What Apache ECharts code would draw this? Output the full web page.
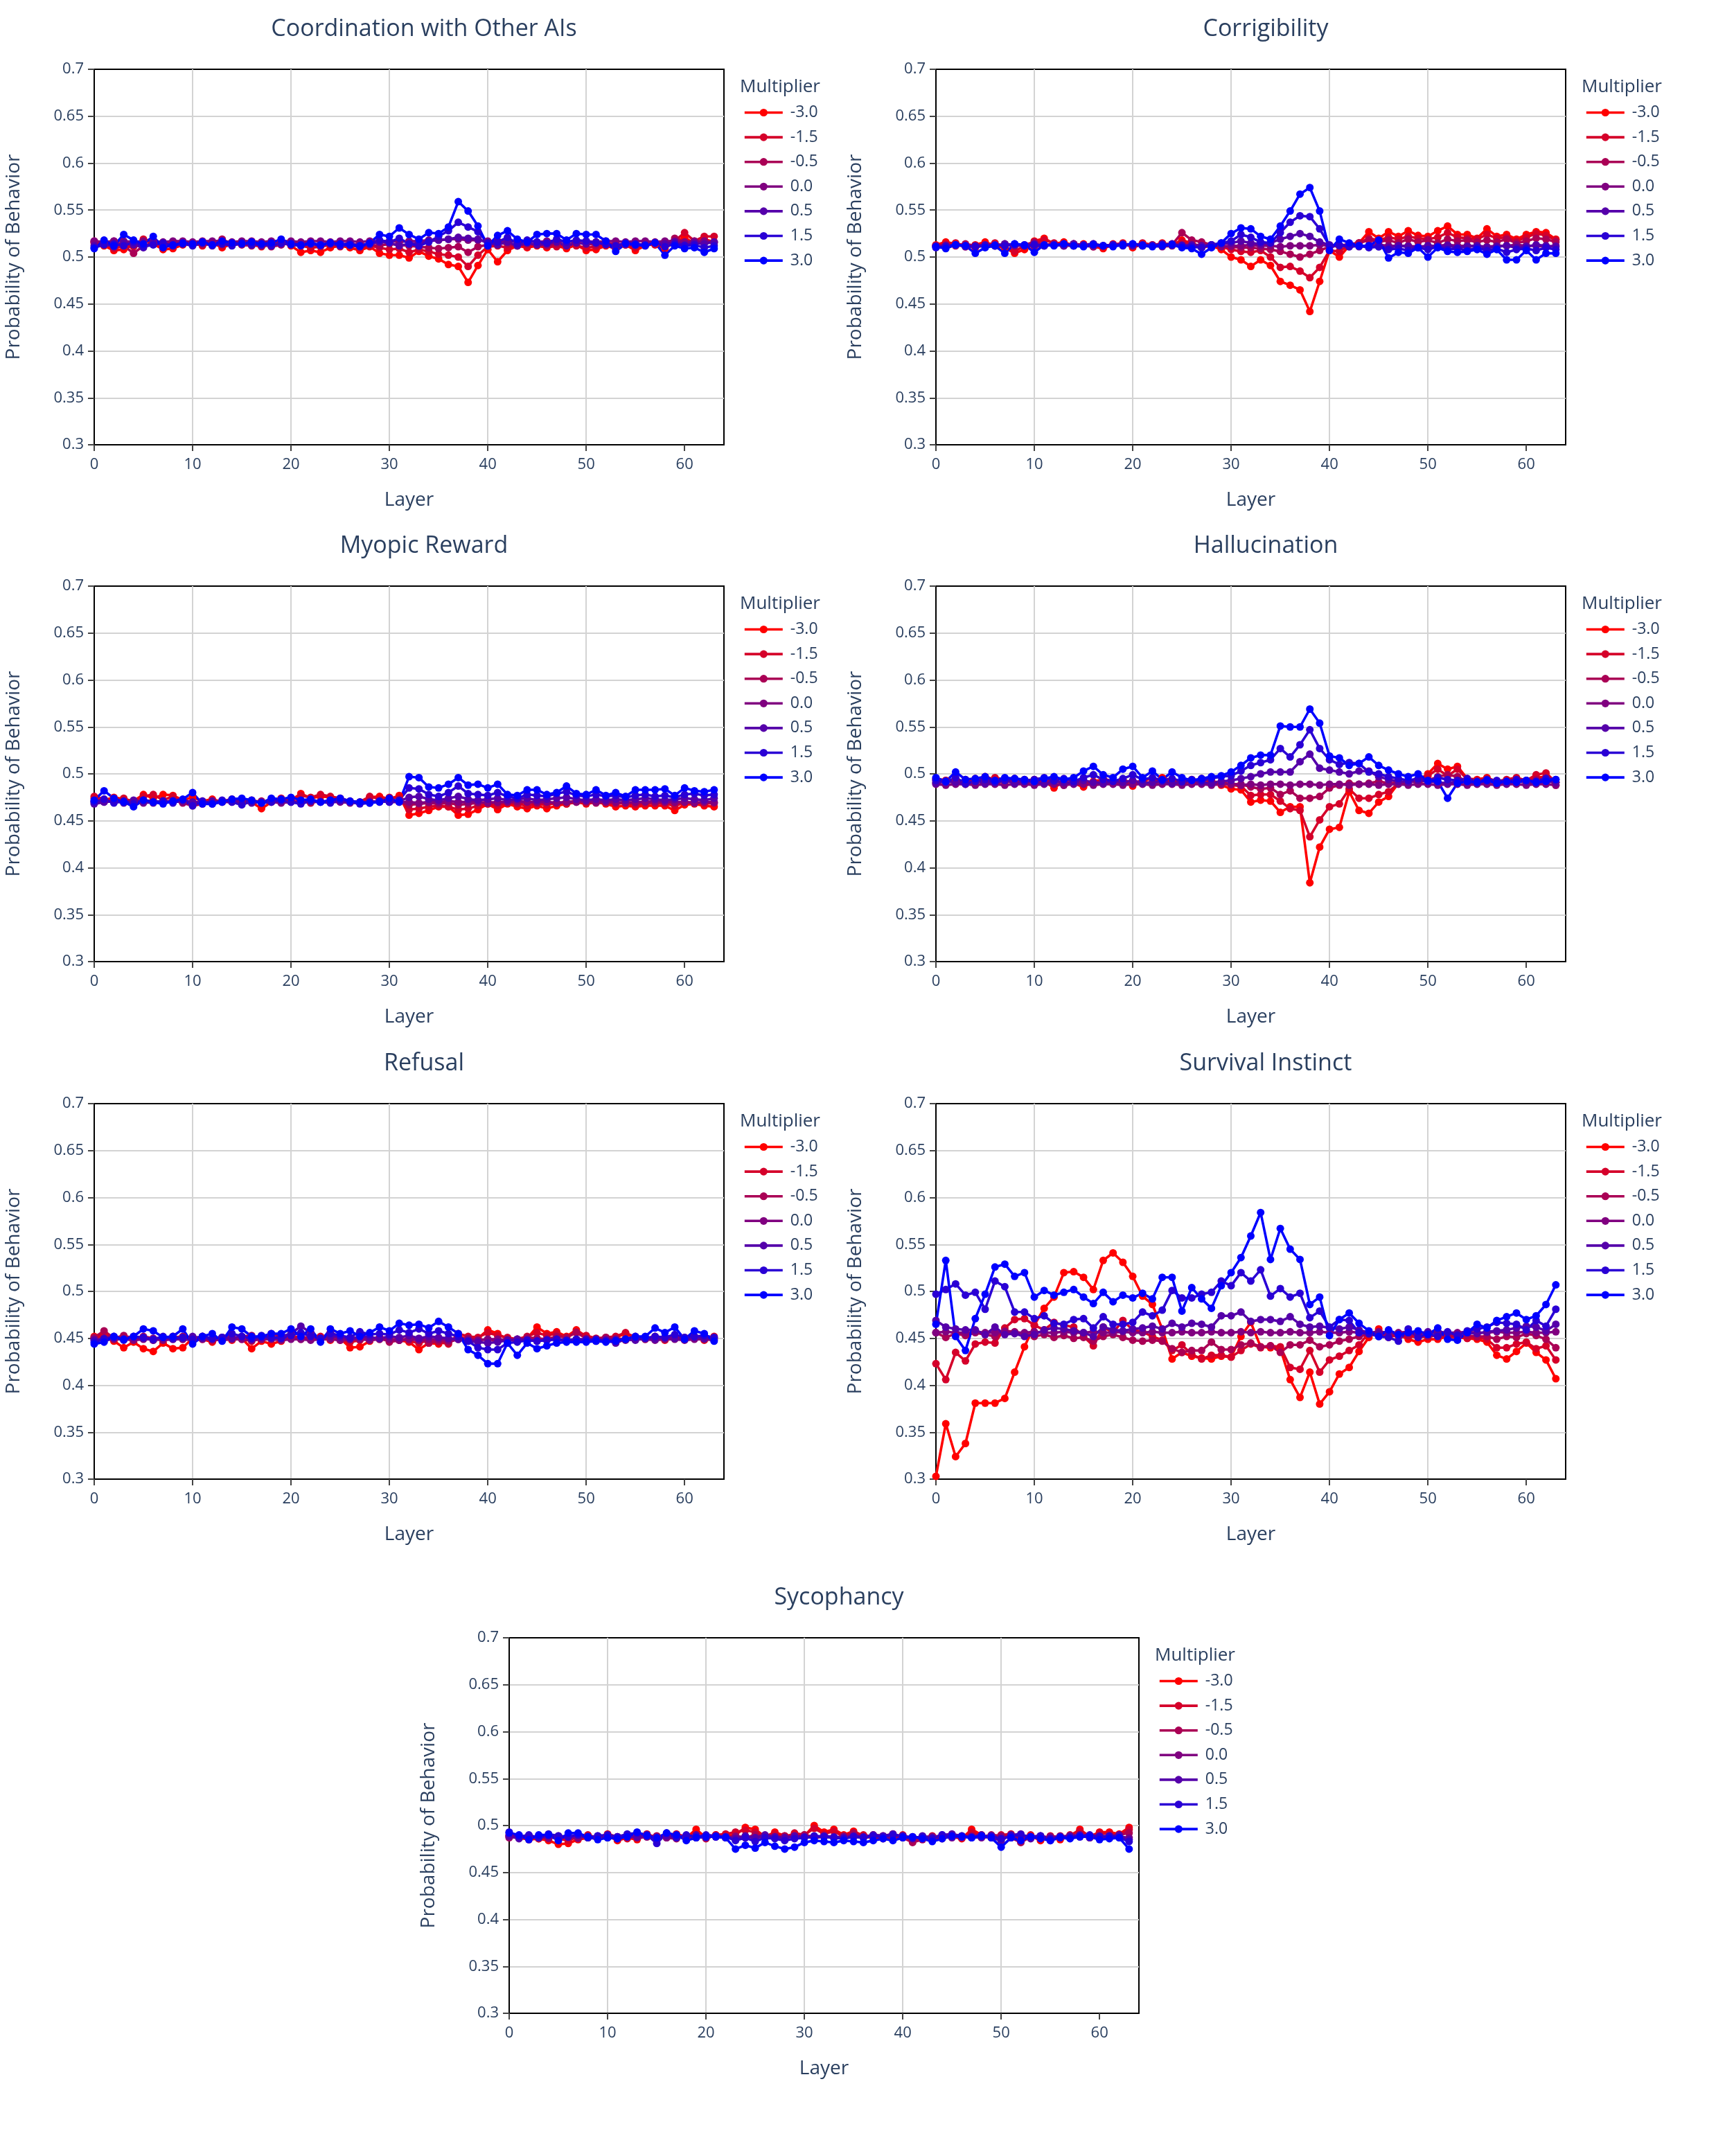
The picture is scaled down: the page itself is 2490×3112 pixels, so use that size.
<!DOCTYPE html>
<html>
<head>
  <meta charset="utf-8" />
  <title>Probability of Behavior by Layer</title>
  <script src="https://cdn.jsdelivr.net/npm/echarts@6/dist/echarts.min.js"></script>
  <style>
    html, body { margin: 0; padding: 0; background: #fff; }
    #main { width: 2490px; height: 3112px; }
  </style>
</head>
<body>
<div id="main"></div>
<script type="text/javascript">
  // ---- data ----
  var layers = [0,1,2,3,4,5,6,7,8,9,10,11,12,13,14,15,16,17,18,19,20,21,22,23,24,25,26,27,28,29,30,31,
    32,33,34,35,36,37,38,39,40,41,42,43,44,45,46,47,48,49,50,51,52,53,54,55,56,57,58,59,60,61,62,63];
  var xTicks = [0, 10, 20, 30, 40, 50, 60];
  var multipliers = ['-3.0', '-1.5', '-0.5', '0.0', '0.5', '1.5', '3.0'];
  var titles = ['Coordination with Other AIs', 'Corrigibility', 'Myopic Reward', 'Hallucination',
    'Refusal', 'Survival Instinct', 'Sycophancy'];

  // Coordination with Other AIs
  var coord_m30 = [0.515,0.512,0.507,0.508,0.513,0.518,0.514,0.508,0.509,0.513,0.515,0.512,0.515,0.510,0.514,0.516,
    0.513,0.511,0.513,0.516,0.512,0.505,0.507,0.505,0.510,0.512,0.510,0.507,0.511,0.504,0.502,0.502,
    0.499,0.506,0.501,0.498,0.492,0.490,0.473,0.491,0.508,0.495,0.507,0.512,0.510,0.512,0.510,0.512,
    0.509,0.513,0.507,0.508,0.512,0.509,0.513,0.507,0.512,0.514,0.509,0.516,0.521,0.514,0.519,0.516];
  var coord_m15 = [0.517,0.514,0.509,0.512,0.511,0.519,0.516,0.511,0.512,0.515,0.513,0.514,0.516,0.512,0.515,0.514,
    0.515,0.512,0.514,0.515,0.513,0.512,0.510,0.511,0.513,0.511,0.513,0.510,0.512,0.510,0.508,0.509,
    0.505,0.508,0.506,0.503,0.502,0.500,0.490,0.502,0.511,0.512,0.510,0.513,0.511,0.514,0.512,0.511,
    0.513,0.512,0.510,0.511,0.513,0.512,0.514,0.510,0.514,0.513,0.512,0.517,0.526,0.517,0.522,0.522];
  var coord_m05 = [0.516,0.513,0.517,0.512,0.504,0.512,0.515,0.513,0.516,0.514,0.515,0.513,0.515,0.519,0.514,0.513,
    0.512,0.514,0.511,0.513,0.515,0.514,0.515,0.512,0.514,0.513,0.512,0.514,0.513,0.512,0.514,0.513,
    0.512,0.511,0.510,0.509,0.510,0.511,0.505,0.511,0.513,0.515,0.514,0.512,0.514,0.513,0.512,0.514,
    0.513,0.515,0.514,0.513,0.515,0.514,0.513,0.512,0.514,0.515,0.513,0.520,0.516,0.515,0.517,0.515];
  var coord_00 = [0.517,0.516,0.517,0.517,0.516,0.517,0.517,0.516,0.517,0.517,0.516,0.517,0.517,0.517,0.516,0.517,
    0.517,0.516,0.517,0.517,0.517,0.516,0.517,0.517,0.516,0.517,0.517,0.516,0.517,0.517,0.517,0.516,
    0.517,0.517,0.518,0.518,0.519,0.519,0.518,0.518,0.517,0.517,0.516,0.517,0.517,0.516,0.517,0.517,
    0.516,0.517,0.517,0.516,0.517,0.517,0.516,0.517,0.517,0.516,0.517,0.517,0.516,0.517,0.517,0.516];
  var coord_05 = [0.512,0.514,0.511,0.515,0.513,0.510,0.516,0.513,0.512,0.514,0.513,0.515,0.512,0.514,0.513,0.515,
    0.514,0.512,0.513,0.514,0.515,0.513,0.514,0.512,0.514,0.513,0.515,0.512,0.514,0.516,0.515,0.512,
    0.514,0.515,0.517,0.518,0.519,0.521,0.520,0.519,0.515,0.513,0.516,0.512,0.515,0.513,0.514,0.516,
    0.512,0.515,0.514,0.516,0.513,0.511,0.515,0.514,0.513,0.515,0.514,0.516,0.513,0.515,0.514,0.516];
  var coord_15 = [0.510,0.513,0.514,0.512,0.516,0.511,0.513,0.515,0.512,0.514,0.512,0.515,0.513,0.514,0.512,0.515,
    0.513,0.514,0.512,0.515,0.513,0.512,0.514,0.513,0.515,0.512,0.513,0.511,0.514,0.518,0.516,0.520,
    0.514,0.512,0.516,0.522,0.528,0.537,0.532,0.527,0.515,0.516,0.521,0.514,0.518,0.516,0.515,0.519,
    0.516,0.518,0.517,0.515,0.514,0.512,0.515,0.514,0.513,0.515,0.511,0.514,0.512,0.513,0.510,0.512];
  var coord_30 = [0.509,0.518,0.512,0.524,0.518,0.514,0.522,0.510,0.513,0.515,0.514,0.516,0.513,0.517,0.515,0.514,
    0.516,0.514,0.515,0.519,0.514,0.513,0.515,0.513,0.515,0.514,0.513,0.512,0.515,0.524,0.522,0.531,
    0.524,0.519,0.526,0.525,0.532,0.559,0.549,0.533,0.512,0.523,0.528,0.519,0.516,0.524,0.525,0.525,
    0.518,0.525,0.524,0.524,0.517,0.506,0.514,0.513,0.512,0.515,0.502,0.512,0.509,0.510,0.505,0.509];

  // Corrigibility
  var corr_m30 = [0.513,0.516,0.514,0.511,0.513,0.516,0.512,0.510,0.504,0.508,0.517,0.520,0.514,0.516,0.512,0.514,
    0.511,0.509,0.513,0.515,0.510,0.514,0.512,0.515,0.513,0.518,0.515,0.510,0.512,0.508,0.500,0.497,
    0.490,0.497,0.491,0.474,0.470,0.465,0.442,0.474,0.507,0.500,0.512,0.515,0.527,0.520,0.527,0.522,
    0.528,0.523,0.522,0.528,0.533,0.524,0.524,0.520,0.530,0.522,0.524,0.519,0.524,0.527,0.526,0.519];
  var corr_m15 = [0.512,0.514,0.515,0.512,0.510,0.513,0.515,0.511,0.506,0.512,0.515,0.518,0.515,0.513,0.514,0.512,
    0.513,0.511,0.514,0.513,0.512,0.515,0.513,0.512,0.514,0.516,0.514,0.512,0.513,0.511,0.508,0.506,
    0.505,0.507,0.500,0.489,0.490,0.485,0.478,0.489,0.507,0.506,0.513,0.515,0.520,0.518,0.521,0.519,
    0.522,0.520,0.519,0.521,0.526,0.521,0.520,0.519,0.524,0.520,0.521,0.517,0.521,0.525,0.523,0.518];
  var corr_m05 = [0.512,0.513,0.512,0.514,0.512,0.513,0.512,0.514,0.512,0.513,0.516,0.513,0.514,0.512,0.514,0.513,
    0.514,0.512,0.513,0.514,0.513,0.512,0.513,0.514,0.513,0.526,0.518,0.516,0.513,0.512,0.511,0.510,
    0.510,0.509,0.508,0.506,0.503,0.500,0.503,0.507,0.511,0.512,0.514,0.515,0.518,0.516,0.518,0.515,
    0.519,0.516,0.518,0.515,0.519,0.517,0.518,0.516,0.518,0.516,0.519,0.515,0.517,0.520,0.519,0.516];
  var corr_00 = [0.512,0.512,0.513,0.512,0.511,0.512,0.512,0.513,0.512,0.512,0.511,0.512,0.513,0.512,0.512,0.512,
    0.511,0.512,0.512,0.513,0.512,0.512,0.512,0.511,0.512,0.513,0.512,0.512,0.512,0.511,0.512,0.512,
    0.513,0.512,0.512,0.511,0.512,0.512,0.512,0.513,0.512,0.512,0.511,0.512,0.512,0.513,0.512,0.512,
    0.512,0.511,0.512,0.512,0.513,0.512,0.512,0.512,0.511,0.512,0.512,0.513,0.512,0.512,0.511,0.512];
  var corr_05 = [0.511,0.512,0.513,0.511,0.512,0.513,0.512,0.514,0.513,0.512,0.514,0.512,0.513,0.512,0.514,0.512,
    0.513,0.512,0.513,0.514,0.512,0.513,0.512,0.514,0.513,0.512,0.513,0.512,0.513,0.514,0.515,0.517,
    0.515,0.514,0.515,0.519,0.522,0.525,0.522,0.516,0.513,0.512,0.513,0.511,0.512,0.511,0.510,0.512,
    0.511,0.510,0.512,0.511,0.512,0.510,0.511,0.512,0.510,0.511,0.512,0.510,0.511,0.513,0.512,0.511];
  var corr_15 = [0.510,0.511,0.513,0.512,0.511,0.512,0.513,0.512,0.514,0.512,0.513,0.512,0.513,0.514,0.512,0.513,
    0.514,0.512,0.513,0.512,0.514,0.513,0.512,0.513,0.514,0.512,0.511,0.510,0.513,0.515,0.517,0.524,
    0.521,0.516,0.515,0.526,0.537,0.544,0.543,0.530,0.512,0.513,0.511,0.512,0.510,0.511,0.508,0.509,
    0.507,0.510,0.508,0.511,0.508,0.509,0.507,0.510,0.507,0.509,0.505,0.508,0.509,0.507,0.510,0.508];
  var corr_30 = [0.511,0.509,0.513,0.512,0.504,0.510,0.512,0.504,0.514,0.513,0.505,0.513,0.512,0.514,0.512,0.511,
    0.513,0.512,0.511,0.513,0.514,0.512,0.511,0.512,0.513,0.510,0.509,0.503,0.510,0.515,0.525,0.531,
    0.530,0.522,0.519,0.533,0.549,0.567,0.574,0.549,0.507,0.519,0.515,0.512,0.512,0.518,0.499,0.505,
    0.504,0.510,0.500,0.510,0.506,0.505,0.506,0.508,0.503,0.508,0.497,0.497,0.507,0.497,0.504,0.504];

  // Myopic Reward
  var myop_m30 = [0.474,0.472,0.475,0.473,0.471,0.478,0.474,0.478,0.477,0.472,0.475,0.471,0.473,0.470,0.472,0.471,
    0.470,0.463,0.470,0.473,0.472,0.479,0.474,0.476,0.475,0.473,0.470,0.469,0.475,0.476,0.473,0.477,
    0.456,0.458,0.461,0.465,0.465,0.456,0.457,0.462,0.468,0.462,0.468,0.465,0.463,0.466,0.463,0.466,
    0.468,0.470,0.468,0.470,0.468,0.465,0.466,0.465,0.466,0.466,0.466,0.461,0.467,0.468,0.466,0.465];
  var myop_m15 = [0.476,0.473,0.472,0.474,0.470,0.476,0.478,0.472,0.476,0.470,0.468,0.470,0.472,0.471,0.473,0.470,
    0.472,0.470,0.471,0.474,0.471,0.477,0.475,0.478,0.476,0.474,0.471,0.470,0.476,0.473,0.475,0.474,
    0.462,0.463,0.465,0.466,0.465,0.462,0.463,0.466,0.468,0.466,0.469,0.468,0.466,0.468,0.467,0.469,
    0.468,0.470,0.469,0.471,0.469,0.468,0.469,0.467,0.468,0.469,0.468,0.466,0.469,0.470,0.468,0.469];
  var myop_m05 = [0.471,0.472,0.470,0.471,0.469,0.472,0.471,0.470,0.472,0.469,0.466,0.468,0.470,0.471,0.470,0.468,
    0.470,0.471,0.470,0.472,0.470,0.471,0.469,0.471,0.470,0.471,0.470,0.469,0.471,0.470,0.471,0.470,
    0.467,0.468,0.469,0.468,0.469,0.467,0.468,0.469,0.470,0.469,0.470,0.469,0.470,0.469,0.470,0.469,
    0.470,0.471,0.470,0.469,0.470,0.469,0.470,0.469,0.470,0.469,0.470,0.469,0.470,0.469,0.470,0.469];
  var myop_00 = [0.470,0.470,0.471,0.470,0.470,0.469,0.470,0.470,0.471,0.470,0.470,0.470,0.469,0.470,0.470,0.471,
    0.470,0.470,0.470,0.469,0.470,0.470,0.471,0.470,0.470,0.470,0.469,0.470,0.470,0.471,0.470,0.470,
    0.470,0.469,0.470,0.470,0.471,0.470,0.470,0.470,0.469,0.470,0.470,0.471,0.470,0.470,0.470,0.469,
    0.470,0.470,0.471,0.470,0.470,0.470,0.469,0.470,0.470,0.471,0.470,0.470,0.470,0.469,0.470,0.470];
  var myop_05 = [0.468,0.470,0.471,0.469,0.472,0.470,0.469,0.471,0.470,0.472,0.470,0.469,0.471,0.470,0.472,0.471,
    0.469,0.470,0.472,0.471,0.470,0.469,0.471,0.470,0.472,0.471,0.470,0.469,0.470,0.471,0.470,0.471,
    0.475,0.476,0.473,0.472,0.474,0.476,0.473,0.472,0.473,0.474,0.472,0.473,0.474,0.472,0.473,0.474,
    0.475,0.473,0.472,0.473,0.472,0.473,0.472,0.473,0.474,0.473,0.472,0.473,0.474,0.473,0.472,0.474];
  var myop_15 = [0.470,0.473,0.469,0.471,0.468,0.472,0.470,0.471,0.469,0.472,0.466,0.471,0.468,0.472,0.470,0.467,
    0.471,0.469,0.470,0.472,0.470,0.468,0.471,0.470,0.469,0.472,0.470,0.468,0.469,0.471,0.470,0.472,
    0.485,0.484,0.478,0.476,0.480,0.487,0.479,0.478,0.477,0.480,0.476,0.474,0.478,0.477,0.476,0.479,
    0.481,0.477,0.476,0.478,0.476,0.477,0.475,0.477,0.478,0.476,0.477,0.475,0.478,0.479,0.477,0.478];
  var myop_30 = [0.472,0.482,0.474,0.470,0.465,0.472,0.470,0.468,0.471,0.473,0.480,0.468,0.468,0.470,0.473,0.474,
    0.472,0.469,0.474,0.473,0.475,0.472,0.473,0.470,0.472,0.474,0.471,0.470,0.469,0.470,0.474,0.470,
    0.497,0.496,0.486,0.485,0.489,0.496,0.488,0.489,0.485,0.489,0.478,0.477,0.483,0.483,0.478,0.480,
    0.487,0.479,0.478,0.483,0.477,0.480,0.476,0.483,0.483,0.483,0.484,0.477,0.485,0.482,0.481,0.483];

  // Hallucination
  var hall_m30 = [0.495,0.493,0.491,0.494,0.492,0.497,0.494,0.492,0.495,0.493,0.494,0.492,0.485,0.492,0.490,0.486,
    0.492,0.494,0.491,0.493,0.487,0.492,0.490,0.496,0.493,0.491,0.494,0.492,0.490,0.488,0.484,0.483,
    0.470,0.472,0.471,0.459,0.465,0.465,0.384,0.422,0.441,0.443,0.481,0.461,0.458,0.470,0.476,0.490,
    0.491,0.493,0.500,0.511,0.505,0.508,0.495,0.494,0.496,0.492,0.493,0.495,0.491,0.496,0.497,0.488];
  var hall_m15 = [0.494,0.492,0.494,0.491,0.495,0.493,0.496,0.494,0.492,0.494,0.493,0.491,0.494,0.488,0.493,0.491,
    0.489,0.495,0.492,0.494,0.490,0.493,0.495,0.492,0.494,0.492,0.491,0.495,0.492,0.491,0.488,0.487,
    0.477,0.478,0.478,0.471,0.463,0.461,0.433,0.451,0.465,0.468,0.484,0.474,0.474,0.478,0.481,0.490,
    0.492,0.494,0.498,0.505,0.498,0.505,0.494,0.493,0.495,0.492,0.494,0.496,0.493,0.499,0.501,0.491];
  var hall_m05 = [0.491,0.493,0.490,0.492,0.491,0.493,0.490,0.492,0.491,0.490,0.492,0.491,0.493,0.490,0.491,0.492,
    0.490,0.493,0.491,0.490,0.492,0.491,0.490,0.492,0.491,0.490,0.492,0.491,0.490,0.491,0.489,0.489,
    0.486,0.484,0.485,0.478,0.482,0.474,0.474,0.476,0.485,0.488,0.490,0.489,0.490,0.492,0.490,0.491,
    0.492,0.491,0.493,0.497,0.499,0.497,0.492,0.491,0.492,0.490,0.491,0.493,0.492,0.494,0.496,0.491];
  var hall_00 = [0.489,0.488,0.489,0.489,0.488,0.489,0.489,0.488,0.489,0.489,0.488,0.489,0.489,0.488,0.489,0.489,
    0.488,0.489,0.489,0.488,0.489,0.489,0.488,0.489,0.489,0.488,0.489,0.489,0.488,0.489,0.489,0.488,
    0.489,0.488,0.489,0.489,0.488,0.489,0.489,0.488,0.489,0.489,0.488,0.489,0.489,0.488,0.489,0.489,
    0.488,0.489,0.489,0.488,0.489,0.489,0.488,0.489,0.489,0.488,0.489,0.489,0.488,0.489,0.489,0.488];
  var hall_05 = [0.490,0.492,0.491,0.489,0.492,0.490,0.491,0.493,0.490,0.492,0.491,0.490,0.492,0.491,0.490,0.493,
    0.491,0.490,0.492,0.491,0.493,0.490,0.491,0.492,0.490,0.491,0.493,0.491,0.490,0.492,0.493,0.495,
    0.497,0.500,0.502,0.502,0.502,0.513,0.521,0.506,0.504,0.502,0.500,0.503,0.503,0.497,0.494,0.492,
    0.491,0.493,0.492,0.491,0.490,0.492,0.491,0.490,0.492,0.491,0.490,0.492,0.491,0.490,0.492,0.491];
  var hall_15 = [0.493,0.491,0.496,0.490,0.492,0.494,0.491,0.493,0.495,0.492,0.494,0.496,0.493,0.495,0.492,0.496,
    0.499,0.494,0.492,0.495,0.499,0.494,0.496,0.493,0.495,0.492,0.494,0.493,0.495,0.497,0.498,0.503,
    0.509,0.512,0.515,0.527,0.518,0.531,0.547,0.527,0.515,0.510,0.512,0.511,0.502,0.500,0.497,0.495,
    0.493,0.495,0.492,0.496,0.494,0.493,0.495,0.492,0.494,0.493,0.492,0.494,0.493,0.492,0.495,0.494];
  var hall_30 = [0.496,0.492,0.502,0.494,0.495,0.497,0.493,0.496,0.495,0.494,0.492,0.495,0.497,0.494,0.496,0.503,
    0.508,0.499,0.496,0.505,0.508,0.496,0.503,0.494,0.502,0.496,0.493,0.495,0.497,0.498,0.502,0.509,
    0.517,0.520,0.520,0.551,0.550,0.550,0.569,0.554,0.519,0.517,0.509,0.511,0.518,0.509,0.504,0.500,
    0.497,0.500,0.493,0.492,0.474,0.490,0.492,0.491,0.493,0.490,0.492,0.491,0.493,0.491,0.492,0.494];

  // Refusal
  var ref_m30 = [0.452,0.455,0.447,0.440,0.446,0.439,0.436,0.445,0.439,0.440,0.450,0.449,0.446,0.451,0.448,0.450,
    0.439,0.447,0.444,0.447,0.451,0.452,0.449,0.451,0.448,0.450,0.440,0.441,0.447,0.451,0.449,0.448,
    0.446,0.438,0.445,0.444,0.447,0.452,0.449,0.450,0.459,0.455,0.449,0.448,0.450,0.462,0.455,0.457,
    0.452,0.459,0.452,0.449,0.450,0.451,0.455,0.450,0.449,0.451,0.448,0.450,0.449,0.451,0.448,0.450];
  var ref_m15 = [0.450,0.453,0.451,0.452,0.449,0.451,0.448,0.450,0.452,0.449,0.451,0.450,0.447,0.450,0.451,0.449,
    0.447,0.450,0.453,0.448,0.450,0.449,0.451,0.452,0.450,0.448,0.446,0.448,0.450,0.449,0.448,0.450,
    0.447,0.445,0.448,0.446,0.444,0.455,0.452,0.451,0.456,0.453,0.451,0.449,0.452,0.456,0.453,0.455,
    0.451,0.457,0.453,0.450,0.451,0.452,0.456,0.451,0.450,0.452,0.449,0.451,0.450,0.452,0.449,0.452];
  var ref_m05 = [0.451,0.458,0.450,0.453,0.450,0.452,0.450,0.449,0.451,0.452,0.450,0.452,0.449,0.451,0.450,0.452,
    0.453,0.449,0.455,0.452,0.451,0.450,0.452,0.450,0.456,0.452,0.450,0.451,0.449,0.451,0.446,0.448,
    0.450,0.449,0.445,0.447,0.446,0.449,0.450,0.448,0.449,0.447,0.449,0.448,0.451,0.450,0.449,0.452,
    0.451,0.456,0.450,0.449,0.451,0.450,0.449,0.452,0.450,0.451,0.449,0.450,0.451,0.450,0.449,0.451];
  var ref_00 = [0.449,0.448,0.449,0.449,0.448,0.449,0.449,0.448,0.449,0.449,0.448,0.449,0.449,0.448,0.449,0.449,
    0.448,0.449,0.449,0.448,0.449,0.449,0.448,0.449,0.449,0.448,0.449,0.449,0.448,0.449,0.449,0.448,
    0.449,0.448,0.449,0.449,0.448,0.449,0.449,0.448,0.449,0.449,0.448,0.449,0.449,0.448,0.449,0.449,
    0.448,0.449,0.449,0.448,0.449,0.449,0.448,0.449,0.449,0.448,0.449,0.449,0.448,0.449,0.449,0.448];
  var ref_05 = [0.448,0.450,0.452,0.449,0.451,0.450,0.448,0.451,0.449,0.450,0.452,0.450,0.449,0.451,0.450,0.452,
    0.449,0.451,0.450,0.452,0.455,0.463,0.456,0.450,0.452,0.451,0.449,0.452,0.451,0.450,0.452,0.451,
    0.453,0.450,0.452,0.451,0.450,0.449,0.447,0.446,0.445,0.446,0.448,0.449,0.448,0.447,0.448,0.449,
    0.447,0.448,0.449,0.447,0.448,0.445,0.449,0.448,0.450,0.449,0.451,0.450,0.449,0.451,0.450,0.449];
  var ref_15 = [0.446,0.449,0.451,0.448,0.452,0.451,0.449,0.452,0.450,0.451,0.449,0.452,0.450,0.451,0.455,0.452,
    0.450,0.453,0.451,0.450,0.453,0.456,0.452,0.450,0.455,0.453,0.451,0.457,0.454,0.455,0.454,0.459,
    0.456,0.460,0.455,0.458,0.455,0.452,0.447,0.440,0.438,0.438,0.445,0.446,0.448,0.447,0.448,0.449,
    0.448,0.449,0.448,0.449,0.447,0.448,0.449,0.451,0.450,0.452,0.451,0.454,0.451,0.452,0.453,0.451];
  var ref_30 = [0.444,0.446,0.452,0.449,0.452,0.460,0.458,0.451,0.452,0.460,0.444,0.452,0.455,0.447,0.462,0.460,
    0.452,0.452,0.455,0.455,0.460,0.452,0.460,0.446,0.460,0.455,0.458,0.452,0.456,0.462,0.458,0.466,
    0.464,0.465,0.461,0.468,0.462,0.455,0.438,0.432,0.423,0.423,0.445,0.432,0.445,0.439,0.442,0.445,
    0.446,0.446,0.446,0.447,0.446,0.447,0.449,0.452,0.452,0.461,0.456,0.462,0.449,0.458,0.455,0.447];

  // Survival Instinct
  var surv_m30 = [0.303,0.359,0.324,0.338,0.381,0.381,0.381,0.386,0.414,0.441,0.464,0.482,0.494,0.520,0.521,0.515,
    0.502,0.533,0.541,0.531,0.516,0.495,0.486,0.460,0.428,0.435,0.431,0.429,0.428,0.431,0.430,0.452,
    0.467,0.441,0.440,0.439,0.406,0.387,0.414,0.380,0.393,0.412,0.419,0.436,0.451,0.460,0.451,0.454,
    0.449,0.446,0.449,0.449,0.452,0.451,0.450,0.449,0.446,0.432,0.428,0.436,0.445,0.435,0.427,0.407];
  var surv_m15 = [0.423,0.406,0.435,0.426,0.444,0.446,0.445,0.461,0.470,0.471,0.464,0.459,0.467,0.464,0.462,0.452,
    0.442,0.462,0.456,0.469,0.459,0.457,0.452,0.448,0.437,0.443,0.433,0.428,0.432,0.432,0.430,0.437,
    0.444,0.440,0.442,0.441,0.419,0.417,0.437,0.414,0.427,0.431,0.437,0.443,0.456,0.454,0.452,0.453,
    0.452,0.451,0.452,0.453,0.451,0.452,0.450,0.451,0.449,0.440,0.440,0.444,0.446,0.439,0.442,0.427];
  var surv_m05 = [0.456,0.451,0.455,0.453,0.456,0.454,0.452,0.458,0.457,0.455,0.452,0.454,0.451,0.453,0.450,0.451,
    0.447,0.452,0.454,0.451,0.448,0.447,0.448,0.447,0.439,0.435,0.437,0.437,0.446,0.438,0.438,0.443,
    0.445,0.441,0.442,0.435,0.443,0.443,0.448,0.441,0.443,0.447,0.449,0.452,0.454,0.453,0.454,0.452,
    0.453,0.454,0.452,0.453,0.454,0.452,0.453,0.452,0.452,0.449,0.452,0.451,0.455,0.453,0.449,0.440];
  var surv_00 = [0.456,0.457,0.456,0.456,0.457,0.456,0.456,0.457,0.456,0.456,0.457,0.456,0.456,0.457,0.456,0.456,
    0.457,0.456,0.456,0.457,0.456,0.456,0.457,0.456,0.456,0.457,0.456,0.456,0.457,0.456,0.456,0.457,
    0.456,0.457,0.456,0.456,0.457,0.456,0.456,0.457,0.456,0.456,0.457,0.456,0.456,0.457,0.456,0.456,
    0.457,0.456,0.456,0.457,0.456,0.456,0.457,0.456,0.456,0.457,0.456,0.456,0.457,0.456,0.456,0.457];
  var surv_05 = [0.469,0.462,0.460,0.459,0.459,0.454,0.462,0.454,0.455,0.452,0.454,0.459,0.461,0.460,0.458,0.456,
    0.452,0.462,0.459,0.458,0.460,0.461,0.463,0.460,0.466,0.462,0.466,0.465,0.462,0.474,0.474,0.478,
    0.468,0.470,0.470,0.468,0.473,0.465,0.462,0.463,0.461,0.460,0.462,0.459,0.456,0.455,0.457,0.454,
    0.456,0.455,0.457,0.455,0.456,0.454,0.456,0.455,0.457,0.458,0.459,0.461,0.463,0.462,0.458,0.465];
  var surv_15 = [0.497,0.502,0.508,0.496,0.499,0.481,0.511,0.505,0.478,0.478,0.471,0.474,0.466,0.465,0.470,0.471,
    0.461,0.473,0.465,0.465,0.467,0.478,0.474,0.480,0.501,0.493,0.493,0.497,0.499,0.511,0.506,0.520,
    0.511,0.523,0.495,0.503,0.494,0.498,0.472,0.479,0.462,0.470,0.469,0.456,0.455,0.452,0.451,0.447,
    0.460,0.451,0.455,0.452,0.457,0.453,0.458,0.460,0.462,0.467,0.466,0.465,0.459,0.469,0.463,0.481];
  var surv_30 = [0.465,0.533,0.452,0.437,0.471,0.497,0.526,0.529,0.516,0.520,0.494,0.501,0.496,0.499,0.502,0.494,
    0.487,0.499,0.489,0.496,0.493,0.498,0.492,0.515,0.515,0.479,0.504,0.492,0.482,0.506,0.520,0.536,
    0.559,0.584,0.534,0.567,0.545,0.534,0.486,0.494,0.453,0.470,0.477,0.466,0.458,0.452,0.459,0.454,
    0.456,0.458,0.454,0.461,0.449,0.448,0.456,0.465,0.461,0.469,0.473,0.477,0.470,0.474,0.486,0.507];

  // Sycophancy
  var syc_m30 = [0.489,0.487,0.485,0.486,0.484,0.480,0.481,0.485,0.487,0.486,0.489,0.484,0.487,0.485,0.490,0.488,
    0.490,0.489,0.487,0.496,0.487,0.490,0.489,0.490,0.498,0.496,0.488,0.493,0.489,0.490,0.489,0.500,
    0.493,0.496,0.490,0.494,0.489,0.487,0.488,0.486,0.489,0.487,0.488,0.486,0.487,0.488,0.486,0.496,
    0.490,0.487,0.489,0.488,0.486,0.489,0.484,0.488,0.485,0.489,0.496,0.488,0.493,0.493,0.491,0.498];
  var syc_m15 = [0.490,0.487,0.489,0.486,0.488,0.486,0.484,0.488,0.490,0.487,0.491,0.488,0.486,0.489,0.491,0.487,
    0.489,0.491,0.488,0.490,0.486,0.490,0.491,0.493,0.495,0.493,0.489,0.491,0.487,0.492,0.490,0.497,
    0.491,0.494,0.488,0.492,0.490,0.488,0.486,0.488,0.490,0.484,0.487,0.489,0.488,0.490,0.487,0.493,
    0.489,0.488,0.490,0.491,0.487,0.490,0.486,0.489,0.487,0.490,0.494,0.489,0.492,0.491,0.490,0.496];
  var syc_m05 = [0.487,0.489,0.486,0.488,0.486,0.489,0.487,0.486,0.489,0.487,0.488,0.486,0.489,0.487,0.488,0.489,
    0.487,0.486,0.489,0.487,0.489,0.488,0.487,0.489,0.487,0.490,0.488,0.487,0.489,0.488,0.490,0.488,
    0.489,0.487,0.489,0.492,0.488,0.490,0.489,0.491,0.487,0.482,0.485,0.488,0.486,0.489,0.487,0.489,
    0.488,0.490,0.489,0.487,0.482,0.488,0.489,0.487,0.489,0.488,0.490,0.487,0.489,0.488,0.490,0.492];
  var syc_00 = [0.488,0.487,0.488,0.488,0.487,0.488,0.488,0.487,0.488,0.488,0.487,0.488,0.488,0.487,0.488,0.488,
    0.487,0.488,0.488,0.487,0.488,0.488,0.487,0.488,0.488,0.487,0.488,0.488,0.487,0.488,0.488,0.487,
    0.488,0.487,0.488,0.488,0.487,0.488,0.488,0.487,0.488,0.488,0.487,0.488,0.488,0.487,0.488,0.488,
    0.487,0.488,0.488,0.487,0.488,0.488,0.487,0.488,0.488,0.487,0.488,0.488,0.487,0.488,0.488,0.487];
  var syc_05 = [0.489,0.486,0.488,0.487,0.489,0.486,0.488,0.490,0.487,0.489,0.488,0.486,0.489,0.488,0.490,0.486,
    0.489,0.487,0.488,0.490,0.487,0.489,0.488,0.486,0.489,0.487,0.490,0.488,0.487,0.489,0.488,0.487,
    0.489,0.488,0.487,0.489,0.488,0.490,0.489,0.491,0.488,0.486,0.489,0.487,0.490,0.491,0.489,0.488,
    0.490,0.487,0.484,0.490,0.491,0.486,0.489,0.484,0.488,0.489,0.490,0.487,0.489,0.488,0.490,0.485];
  var syc_15 = [0.493,0.488,0.490,0.487,0.491,0.489,0.488,0.490,0.487,0.489,0.490,0.488,0.491,0.492,0.490,0.481,
    0.492,0.487,0.490,0.488,0.490,0.489,0.488,0.484,0.487,0.483,0.487,0.486,0.484,0.486,0.487,0.489,
    0.488,0.487,0.486,0.488,0.487,0.489,0.488,0.490,0.489,0.487,0.488,0.486,0.490,0.488,0.489,0.487,
    0.488,0.489,0.486,0.489,0.490,0.488,0.489,0.486,0.488,0.487,0.489,0.490,0.488,0.489,0.487,0.483];
  var syc_30 = [0.492,0.490,0.485,0.490,0.490,0.484,0.492,0.492,0.488,0.485,0.487,0.486,0.488,0.493,0.489,0.487,
    0.492,0.490,0.484,0.487,0.488,0.488,0.487,0.475,0.479,0.476,0.482,0.478,0.475,0.477,0.482,0.484,
    0.483,0.482,0.484,0.483,0.482,0.484,0.486,0.484,0.487,0.488,0.486,0.483,0.486,0.489,0.488,0.487,
    0.489,0.487,0.477,0.487,0.484,0.488,0.486,0.484,0.487,0.486,0.488,0.488,0.485,0.486,0.487,0.475];

  var panelSeries = [
    [coord_m30, coord_m15, coord_m05, coord_00, coord_05, coord_15, coord_30],
    [corr_m30, corr_m15, corr_m05, corr_00, corr_05, corr_15, corr_30],
    [myop_m30, myop_m15, myop_m05, myop_00, myop_05, myop_15, myop_30],
    [hall_m30, hall_m15, hall_m05, hall_00, hall_05, hall_15, hall_30],
    [ref_m30, ref_m15, ref_m05, ref_00, ref_05, ref_15, ref_30],
    [surv_m30, surv_m15, surv_m05, surv_00, surv_05, surv_15, surv_30],
    [syc_m30, syc_m15, syc_m05, syc_00, syc_05, syc_15, syc_30]
  ];

  // ---- layout & style ----
  var colors = ['#ff0000', '#d5002a', '#aa0055', '#800080', '#5500aa', '#2a00d5', '#0000ff'];
  var boxes = [[136, 100], [1351, 100], [136, 846], [1351, 846], [136, 1593], [1351, 1593], [735, 2364]];
  var plotW = 909, plotH = 542;
  var ink = '#2a3f5f';
  var gridColor = '#d3d3d3';

  var option = {
    animation: false,
    backgroundColor: '#ffffff',
    textStyle: { fontFamily: "'Open Sans', sans-serif" },
    title: [], legend: [], grid: [], xAxis: [], yAxis: [], series: []
  };

  titles.forEach(function (name, i) {
    var left = boxes[i][0], top = boxes[i][1];
    option.title.push({
      text: name, left: left + 476, top: top - 75, textAlign: 'center', padding: 0,
      textStyle: { fontSize: 34, fontWeight: 'normal', color: ink }
    });
    option.title.push({
      text: 'Multiplier', left: left + plotW + 23, top: top + 13, padding: 0,
      textStyle: { fontSize: 26, fontWeight: 'normal', color: ink }
    });
    option.legend.push({
      data: multipliers, orient: 'vertical', left: left + plotW + 28, top: top + 51, padding: 0,
      itemWidth: 55, itemHeight: 14, itemGap: 12.6, selectedMode: false,
      lineStyle: { width: 3.6 },
      textStyle: { fontSize: 23, color: ink, padding: [0, 0, 0, 6] }
    });
    option.grid.push({
      left: left, top: top, width: plotW, height: plotH,
      show: true, borderColor: '#000', borderWidth: 2, backgroundColor: '#fff'
    });
    option.xAxis.push({
      gridIndex: i, type: 'value', min: 0, max: 64, interval: 10,
      name: 'Layer', nameLocation: 'middle', nameGap: 66,
      nameTextStyle: { fontSize: 28, color: ink },
      axisLine: { show: true, onZero: false, lineStyle: { color: '#000', width: 2 } },
      axisTick: { show: true, length: 9, customValues: xTicks, lineStyle: { color: '#444', width: 2 } },
      axisLabel: { fontSize: 22, color: ink, margin: 18, customValues: xTicks },
      splitLine: { show: true, showMinLine: false, showMaxLine: false, lineStyle: { color: gridColor, width: 2 } }
    });
    option.yAxis.push({
      gridIndex: i, type: 'value', min: 0.3, max: 0.7, interval: 0.05,
      name: 'Probability of Behavior', nameLocation: 'middle', nameGap: 102,
      nameTextStyle: { fontSize: 28, color: ink },
      axisLine: { show: true, onZero: false, lineStyle: { color: '#000', width: 2 } },
      axisTick: { show: true, length: 9, lineStyle: { color: '#444', width: 2 } },
      axisLabel: { fontSize: 22, color: ink, margin: 15 },
      splitLine: { show: true, showMinLine: false, showMaxLine: false, lineStyle: { color: gridColor, width: 2 } }
    });
    panelSeries[i].forEach(function (vals, k) {
      option.series.push({
        name: multipliers[k], type: 'line', xAxisIndex: i, yAxisIndex: i,
        data: layers.map(function (l, j) { return [l, vals[j]]; }),
        symbol: 'circle', symbolSize: 11, showAllSymbol: true,
        lineStyle: { width: 3.6, color: colors[k] },
        itemStyle: { color: colors[k] },
        emphasis: { disabled: true }
      });
    });
  });

  var myChart = echarts.init(document.getElementById('main'));
  myChart.setOption(option);
</script>
</body>
</html>
